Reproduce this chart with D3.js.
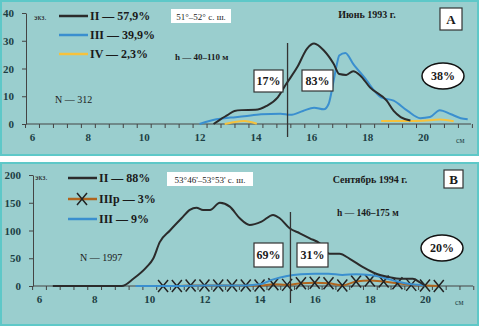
<!DOCTYPE html>
<html>
<head>
<meta charset="utf-8">
<script src="https://cdn.jsdelivr.net/npm/d3@7"></script>
<style>
  body { margin: 0; background: #fff; }
  text { font-family: "Liberation Serif", "DejaVu Serif", serif; }
</style>
</head>
<body>
<div id="wrapper"></div>
<script>
// ---- data, panel A (June 1993) ----
const topTickLabels = [6, 8, 10, 12, 14, 16, 18, 20];
const topYTicks = [0, 10, 20, 30, 40];
const topIIx = [12.5, 12.75, 13, 13.25, 13.5, 14, 14.4, 14.8, 15.1, 15.5, 15.85, 16.1, 16.45, 16.8, 17, 17.25, 17.5, 17.75, 18.1, 18.7, 18.95, 19.2, 19.55];
const topII = [0, 1.7, 3.2, 4.7, 5, 5.1, 6.5, 9.6, 14.4, 20.5, 27.2, 29, 26.5, 21.7, 18, 17.7, 19, 17.5, 13.2, 8.4, 4.7, 2.5, 1.3];
const topIIIx = [12, 12.6, 13.1, 13.6, 14.2, 14.9, 15.25, 15.7, 16.1, 16.45, 16.62, 16.8, 16.92, 17, 17.22, 17.5, 17.9, 18.5, 18.95, 19.45, 19.9, 20.25, 20.6, 21, 21.35, 21.6];
const topIII = [0, 1.7, 2.3, 2.8, 3.5, 3.7, 3.3, 4.7, 5.9, 5.3, 7.2, 15.6, 21.7, 24.7, 25.6, 21.7, 16.8, 9.6, 8.4, 4.7, 2.1, 2.5, 5, 3.5, 2.1, 1.7];
const topIVx = [12.9, 13.2, 13.6, 14.05, 14.5, 18.5, 19, 19.5, 20, 20.6, 21.1];
const topIV = [0, 0.6, 1.1, 0.1, null, 1.1, 1.1, 1.1, 1.2, 1.6, 1.0];

// ---- data, panel B (September 1994) ----
const botTickLabels = [6, 8, 10, 12, 14, 16, 18, 20];
const botYTicks = [0, 50, 100, 150, 200];
const botIIx = [6.5, 7, 8, 9, 9.42, 9.9, 10.14, 10.38, 10.75, 11.17, 11.47, 11.71, 11.95, 12.2, 12.56, 12.92, 13.28, 13.64, 14.07, 14.49, 14.73, 15.09, 15.46, 15.82, 16.18, 16.54, 16.9, 17.27, 17.75, 18.23, 18.72, 19.08, 19.56, 19.8, 20];
const botII = [0, 0, 0, 0, 13, 34, 49, 79, 100, 122, 137, 141, 137, 137, 150, 143, 122, 110, 116, 128, 122, 104, 95, 86, 77, 58, 58, 49, 34, 22, 16, 13, 13, 7, 1];
const botIIIx = [9.5, 10, 11, 12, 13, 13.5, 14, 14.5, 15, 15.5, 16, 16.5, 17, 17.5, 18, 18.5, 19, 19.5, 20];
const botIII = [0, 0, 0, 1, 1, 1, 3, 12, 18, 21, 22, 22, 20, 21, 20, 15, 8, 3, 1];
const botIIIpx = [10.5, 11, 11.5, 12, 12.5, 13, 13.5, 14, 14.5, 15, 15.5, 16, 16.5, 17, 17.5, 18, 18.5, 19, 19.5, 20, 20.5];
const botIIIp = [0, 0, 1, 1, 1, 1, 1, 1, 3, 2, 5, 6, 5, 1, 8, 10, 8, 5, 2, 1, 0];

const C = { bg: "#9acece", frame: "#5ec8c8", axis: "#444", ink: "#1d3f44",
  black: "#2b2b2b", blue: "#3a8fcf", yellow: "#f6c23c", brown: "#b0651e" };

var svg = d3.select("#wrapper").append("svg").attr("width", 480).attr("height", 326);

function zip(xs, ys) { return xs.map((v, i) => ({x: v, y: ys[i]})); }

function panel(o) {
  const g = svg.append("g");
  g.append("rect").attr("x", o.top[0]).attr("y", o.top[1]).attr("width", o.top[2]).attr("height", o.top[3])
    .attr("fill", C.bg).attr("stroke", C.frame).attr("stroke-width", 2);
  const x = d3.scaleLinear().domain([6, 20]).range(o.xr);
  const y = d3.scaleLinear().domain(o.yd).range(o.yr);

  // x axis: minor ticks between categories, labels at categories
  const minor = d3.range(5.75, 21.8, 0.5);
  g.append("g").attr("transform", "translate(0," + o.yr[0] + ")")
    .call(d3.axisBottom(x).tickValues(minor).tickFormat("").tickSize(4).tickSizeOuter(0))
    .call(a => a.select(".domain").attr("d", "M" + o.axisX + ",0H" + o.axisEnd).attr("stroke", C.axis))
    .call(a => a.selectAll(".tick line").attr("stroke", C.axis));
  g.append("g").attr("transform", "translate(0," + (o.yr[0] + 6) + ")")
    .call(d3.axisBottom(x).tickValues(o.labels).tickSize(0))
    .call(a => a.select(".domain").remove())
    .selectAll("text").attr("fill", C.ink).style("font-size", "11px").style("font-weight", "bold")
    .style("font-family", "Liberation Serif");
  g.append("text").attr("x", o.cm[0]).attr("y", o.cm[1]).attr("fill", C.ink)
    .style("font-size", "8px").text("см");

  // y axis
  g.append("g").attr("transform", "translate(" + o.axisX + ",0)")
    .call(d3.axisLeft(y).tickValues(o.yticks).tickSize(4).tickSizeOuter(0).tickPadding(8))
    .call(a => a.select(".domain").attr("stroke", C.axis))
    .call(a => a.selectAll(".tick line").attr("stroke", C.axis))
    .selectAll("text").attr("fill", C.ink).style("font-size", "11px").style("font-weight", "bold")
    .style("font-family", "Liberation Serif");

  const line = d3.line().defined(d => d.y != null).x(d => x(d.x)).y(d => y(d.y)).curve(d3.curveMonotoneX);
  o.series.forEach(s => {
    g.append("path").datum(zip(s.xs, s.ys)).attr("d", line).attr("fill", "none")
      .attr("stroke", s.color).attr("stroke-width", s.w || 2);
    if (s.marker) {
      g.selectAll(null).data(zip(s.xs, s.ys)).enter().append("path")
        .attr("d", d => { const cx = x(d.x), cy = y(d.y); return "M" + (cx - 5) + "," + (cy - 6) + "L" + (cx + 5) + "," + (cy + 6) + "M" + (cx + 5) + "," + (cy - 6) + "L" + (cx - 5) + "," + (cy + 6); })
        .attr("stroke", "#222").attr("stroke-width", 1.5);
    }
  });

  // divider
  g.append("line").attr("x1", x(o.split)).attr("x2", x(o.split)).attr("y1", o.splitY[0]).attr("y2", o.splitY[1])
    .attr("stroke", "#333").attr("stroke-width", 1.3);
  return {g, x, y};
}

function label(g, x, yy, t, size, bold, anchor) {
  return g.append("text").attr("x", x).attr("y", yy).attr("fill", "#1a1a1a")
    .style("font-size", size + "px").style("font-weight", bold ? "bold" : "normal")
    .attr("text-anchor", anchor || "start").text(t);
}
function box(g, x0, y0, w, h, t, size) {
  g.append("rect").attr("x", x0).attr("y", y0).attr("width", w).attr("height", h)
    .attr("fill", "#fff").attr("stroke", "#333").attr("stroke-width", 1.2);
  label(g, x0 + w / 2, y0 + h / 2 + size * 0.36, t, size, true, "middle");
}
function oval(g, cx, cy, t) {
  g.append("ellipse").attr("cx", cx).attr("cy", cy).attr("rx", 21).attr("ry", 13)
    .attr("fill", "#fff").attr("stroke", "#111").attr("stroke-width", 1.5);
  label(g, cx, cy + 4, t, 12, true, "middle");
}
function legend(g, x0, yy, color, t, marker) {
  g.append("line").attr("x1", x0).attr("x2", x0 + 29).attr("y1", yy).attr("y2", yy)
    .attr("stroke", color).attr("stroke-width", 2.5);
  if (marker) g.append("path").attr("d", "M" + (x0 + 9) + "," + (yy - 6) + "L" + (x0 + 19) + "," + (yy + 6) + "M" + (x0 + 19) + "," + (yy - 6) + "L" + (x0 + 9) + "," + (yy + 6))
    .attr("stroke", "#222").attr("stroke-width", 1.5);
  label(g, x0 + 31, yy + 4, t, 12, true);
}

// ---- panel A ----
const A = panel({ top: [1, 1, 477, 154], xr: [32, 423], yd: [0, 40], yr: [124, 13], axisX: 26, axisEnd: 471,
  labels: topTickLabels, yticks: topYTicks, cm: [456, 143], split: 15.15, splitY: [43, 137],
  series: [
    {xs: topIVx, ys: topIV, color: C.yellow},
    {xs: topIIIx, ys: topIII, color: C.blue},
    {xs: topIIx, ys: topII, color: C.black}
  ]});
label(A.g, 34, 20, "экз.", 8, false);
legend(A.g, 59, 16, C.black, "II — 57,9%");
legend(A.g, 59, 35, C.blue, "III — 39,9%");
legend(A.g, 59, 54, C.yellow, "IV — 2,3%");
A.g.append("rect").attr("x", 171).attr("y", 9).attr("width", 60).attr("height", 14).attr("fill", "#fff");
label(A.g, 201, 19.5, "51°–52° с. ш.", 9, false, "middle");
label(A.g, 175, 60, "h — 40–110 м", 9, true);
label(A.g, 55, 103, "N — 312", 10, false);
label(A.g, 367, 18, "Июнь 1993 г.", 10, true, "middle");
box(A.g, 440, 8, 22, 22, "А", 13);
box(A.g, 254, 70, 29, 22, "17%", 12);
box(A.g, 302, 70, 31, 21, "83%", 12);
oval(A.g, 443, 76, "38%");

// ---- panel B ----
const B = panel({ top: [1, 163, 477, 162], xr: [39, 425], yd: [0, 200], yr: [286, 175], axisX: 33, axisEnd: 473,
  labels: botTickLabels, yticks: botYTicks, cm: [455, 305], split: 15.12, splitY: [212, 303],
  series: [
    {xs: botIIIpx, ys: botIIIp, color: C.brown, marker: true},
    {xs: botIIIx, ys: botIII, color: C.blue},
    {xs: botIIx, ys: botII, color: C.black}
  ]});
label(B.g, 35, 180, "экз.", 8, false);
legend(B.g, 68, 178, C.black, "II — 88%");
legend(B.g, 68, 199, C.brown, "IIIр — 3%", true);
legend(B.g, 68, 219, C.blue, "III — 9%");
B.g.append("rect").attr("x", 167).attr("y", 172).attr("width", 86).attr("height", 14).attr("fill", "#fff");
label(B.g, 210, 182.5, "53°46'–53°53' с. ш.", 9, false, "middle");
label(B.g, 337, 216, "h — 146–175 м", 9.5, true);
label(B.g, 80, 261, "N — 1997", 10, false);
label(B.g, 370, 183, "Сентябрь 1994 г.", 10, true, "middle");
box(B.g, 444, 170, 19, 18, "В", 13);
box(B.g, 254, 243, 29, 24, "69%", 12);
box(B.g, 297, 243, 31, 24, "31%", 12);
oval(B.g, 442, 248, "20%");
</script>
</body>
</html>
